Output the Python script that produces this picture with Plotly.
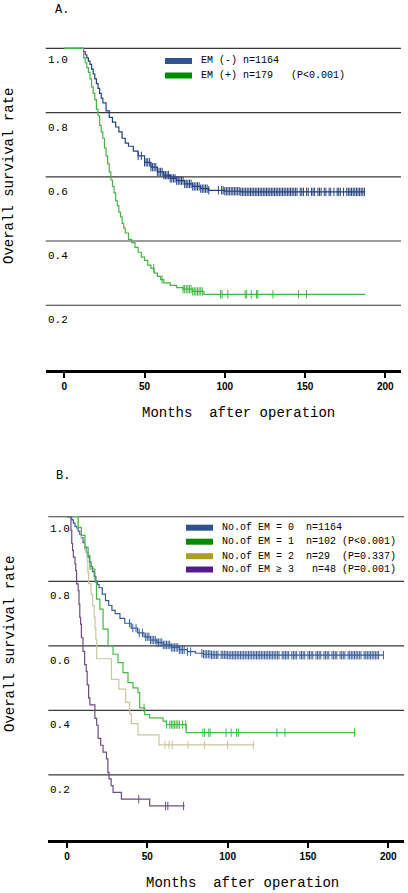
import numpy as np
import plotly.graph_objects as go

# ---------------- Panel A data ----------------
a_neg_t = [0, 12, 13, 14, 15, 16, 17, 18, 19, 20, 21, 22, 23, 24, 26, 28, 30, 32, 34, 36, 38, 40,
           43, 46, 50, 54, 58, 62, 66, 70, 75, 80, 85, 90, 100, 110]
a_neg_s = [1.0, 0.99, 0.98, 0.97, 0.96, 0.95, 0.935, 0.92, 0.905, 0.89, 0.875, 0.86, 0.845, 0.83,
           0.805, 0.785, 0.77, 0.755, 0.74, 0.72, 0.705, 0.695, 0.68, 0.665, 0.645, 0.63, 0.615,
           0.605, 0.595, 0.588, 0.578, 0.57, 0.563, 0.558, 0.555, 0.553]
a_neg_end = 187.5
a_neg_cens = [46, 48, 50, 51, 52, 53, 54, 55, 56, 57, 58, 59, 60, 61, 62, 63, 64, 65, 66, 67, 68, 69,
              70, 71, 72, 73, 74, 75, 76, 77, 78, 79, 80, 81, 82, 83, 84, 85, 86, 87, 88, 89, 90,
              96, 98, 99, 100, 101, 102, 103, 104, 105, 106, 107, 108, 109, 110, 111, 112, 113, 114,
              115, 116, 117, 118, 119, 120, 121, 122, 123, 124, 125, 126, 127, 128, 129, 130, 131,
              132, 133, 134, 135, 136, 137, 138, 139, 140, 141, 142, 143, 144, 145, 147, 148, 149,
              151, 152, 154, 155, 156, 158, 159, 160, 162, 163, 165, 166, 168, 170, 171, 172, 174,
              176, 177, 178, 179, 180, 181, 182, 183, 184, 185, 186, 187]

a_pos_t = [0, 12, 13, 14, 15, 16, 17, 18, 19, 20, 21, 22, 23, 24, 25, 26, 27, 28, 29, 30, 31, 32,
           33, 34, 35, 36, 37, 38, 40, 42, 44, 46, 48, 50, 52, 54, 56, 58, 60, 62, 66, 70, 74, 80, 87]
a_pos_s = [1.0, 0.97, 0.955, 0.94, 0.925, 0.905, 0.88, 0.86, 0.84, 0.81, 0.79, 0.76, 0.74, 0.72,
           0.69, 0.665, 0.64, 0.615, 0.59, 0.57, 0.55, 0.525, 0.51, 0.49, 0.475, 0.455, 0.44,
           0.425, 0.405, 0.395, 0.38, 0.365, 0.35, 0.34, 0.325, 0.315, 0.30, 0.29, 0.28, 0.27,
           0.262, 0.255, 0.25, 0.243, 0.234]
a_pos_end = 187.5
a_pos_cens = [55.6, 60.9, 74, 75, 76, 77, 78, 79, 80, 81, 82, 83, 84, 85, 86, 97.3, 98.3, 101.9,
              112.7, 113.6, 116.5, 119.8, 120.6, 130, 145.9, 150.9]

# ---------------- Panel B data ----------------
b0_t = [0, 3, 4, 5, 6, 7, 8, 9, 10, 11, 12, 13, 14, 15, 16, 17, 18, 19, 20, 22, 24, 26, 28, 30,
        33, 36, 40, 44, 48, 52, 56, 60, 65, 70, 75, 80, 85, 90, 100]
b0_s = [1.0, 0.99, 0.98, 0.97, 0.965, 0.955, 0.945, 0.935, 0.92, 0.905, 0.89, 0.875, 0.86, 0.845,
        0.83, 0.815, 0.80, 0.79, 0.78, 0.76, 0.74, 0.725, 0.71, 0.70, 0.685, 0.67, 0.655, 0.64,
        0.628, 0.618, 0.61, 0.603, 0.595, 0.588, 0.582, 0.577, 0.574, 0.572, 0.571]
b0_end = 197
b0_cens = [39, 41, 43, 45, 47, 49, 50, 51, 52, 53, 54, 55, 56, 57, 58, 59, 60, 61, 62, 63, 64, 65,
           66, 67, 68, 69, 70, 71, 72, 73, 75, 77, 84, 85, 86, 87, 88, 89, 90, 91, 92, 93, 94, 96,
           97, 98, 99, 100, 101, 102, 103, 104, 105, 106, 107, 108, 109, 110, 111, 112, 113, 114,
           115, 116, 117, 118, 119, 120, 121, 122, 123, 124, 125, 126, 127, 128, 129, 130, 131,
           132, 134, 135, 136, 137, 138, 140, 141, 142, 143, 145, 146, 147, 148, 150, 151, 152,
           153, 155, 156, 157, 158, 160, 161, 162, 163, 165, 166, 167, 168, 170, 171, 172, 173,
           175, 176, 177, 178, 179, 180, 181, 182, 183, 185, 186, 187, 188, 189, 190, 191, 192,
           193, 194, 197]

b1_t = [0, 7, 9, 11.2, 13.2, 14.3, 17.4, 18.4, 20.5, 22.5, 25.6, 28.7, 31.8, 34.9, 38, 41.1, 44.2,
        45.3, 48.4, 51.5, 59.8, 61.9, 74.2]
b1_s = [1.0, 0.967, 0.942, 0.906, 0.88, 0.838, 0.797, 0.745, 0.714, 0.652, 0.60, 0.574, 0.548,
        0.517, 0.486, 0.47, 0.455, 0.408, 0.387, 0.377, 0.367, 0.356, 0.331]
b1_end = 179.3
b1_cens = [48, 62, 64, 65, 66, 67, 68, 69, 70, 72, 74, 84.6, 85.6, 88.3, 89.1, 99, 102.2, 105.6,
           106.7, 130.7, 135.7, 179]

b2_t = [0, 7, 9, 11, 12.5, 13, 13.5, 15, 16, 17, 17.5, 18, 18.5, 27.7, 32.3, 36.6, 39, 40.1, 44.2,
        57.3]
b2_s = [1.0, 0.966, 0.931, 0.897, 0.862, 0.828, 0.793, 0.759, 0.724, 0.69, 0.655, 0.62, 0.56,
        0.496, 0.466, 0.425, 0.39, 0.359, 0.324, 0.293]
b2_end = 116.6
b2_cens = [61, 63.5, 65.6, 75.3, 85.6, 100, 116]

b3_t = [0, 2.5, 3, 3.5, 4, 5, 5.5, 6, 7, 7.5, 8, 8.5, 9, 10, 11, 12, 12.6, 13.5, 14.3, 17.4, 18.5,
        19.4, 21, 22.5, 24.6, 25.5, 26.2, 27.5, 28.7, 33.9, 51.5]
b3_s = [1.0, 0.958, 0.917, 0.896, 0.875, 0.854, 0.833, 0.792, 0.771, 0.729, 0.688, 0.667, 0.625,
        0.583, 0.542, 0.521, 0.479, 0.438, 0.417, 0.375, 0.354, 0.313, 0.292, 0.271, 0.25, 0.208,
        0.188, 0.167, 0.146, 0.125, 0.104]
b3_end = 73.2
b3_cens = [44.7, 61.4, 62.8, 72.6]

x_ticks = [0, 50, 100, 150, 200]
y_grid = [1.0, 0.8, 0.6, 0.4, 0.2]
y_labels = ["1.0", "0.8", "0.6", "0.4", "0.2"]

legend_a = ["EM (-) n=1164", "EM (+) n=179   (P<0.001)"]
legend_b = ["No.of EM = 0  n=1164",
            "No.of EM = 1  n=102 (P<0.001)",
            "No.of EM = 2  n=29  (P=0.337)",
            "No.of EM ≥ 3   n=48 (P=0.001)"]

# ---------------- styling ----------------
W, H = 408, 893
MONO = "Liberation Mono, DejaVu Sans Mono, monospace"

C_BLUE_A = "#23407f"
C_GREEN_A = "#45b645"
C_BLUE_B = "#3a5d98"
C_GREEN_B = "#48b848"
C_KHAKI = "#c9c6a0"
C_PURPLE = "#6e4c7e"

LEG_BLUE = "#30528f"
LEG_GREEN = "#008a00"
LEG_KHAKI = "#a8a01e"
LEG_PURPLE = "#581c8a"

fig = go.Figure()


def add_km(t, s, end, cens, color, xa, ya):
    xs = list(t) + [end]
    ys = list(s) + [s[-1]]
    fig.add_trace(go.Scatter(x=xs, y=ys, mode="lines",
                             line=dict(color=color, width=1.2, shape="hv"),
                             xaxis=xa, yaxis=ya, showlegend=False, hoverinfo="skip"))
    tt = np.array(t, dtype=float)
    ss = np.array(s, dtype=float)
    idx = np.searchsorted(tt, np.array(cens, dtype=float), side="right") - 1
    fig.add_trace(go.Scatter(x=cens, y=ss[idx], mode="markers",
                             marker=dict(symbol="line-ns", size=6,
                                         line=dict(color=color, width=1)),
                             xaxis=xa, yaxis=ya, showlegend=False, hoverinfo="skip"))


add_km(a_neg_t, a_neg_s, a_neg_end, a_neg_cens, C_BLUE_A, "x", "y")
add_km(a_pos_t, a_pos_s, a_pos_end, a_pos_cens, C_GREEN_A, "x", "y")
add_km(b0_t, b0_s, b0_end, b0_cens, C_BLUE_B, "x2", "y2")
add_km(b2_t, b2_s, b2_end, b2_cens, C_KHAKI, "x2", "y2")
add_km(b1_t, b1_s, b1_end, b1_cens, C_GREEN_B, "x2", "y2")
add_km(b3_t, b3_s, b3_end, b3_cens, C_PURPLE, "x2", "y2")


def px_x(p):
    return p / W


def px_y(p):
    return 1 - p / H


def xaxis_cfg(dom, yref):
    return dict(domain=dom, range=[-11.6, 209.8], tickvals=x_ticks,
                ticktext=[str(v) for v in x_ticks], showline=True, linewidth=3,
                linecolor="black", ticks="outside", ticklen=5, tickwidth=2,
                tickcolor="black", showgrid=False, zeroline=False, anchor=yref,
                tickfont=dict(family="Liberation Sans, Arial", size=10, color="black",
                              weight="bold"), fixedrange=True)


def yaxis_cfg(dom, xref):
    return dict(domain=dom, range=[0, 1.01], showticklabels=False, showgrid=False,
                zeroline=False, showline=False, ticks="", anchor=xref, fixedrange=True)


fig.update_layout(
    width=W, height=H, margin=dict(l=0, r=0, t=0, b=0),
    paper_bgcolor="white", plot_bgcolor="white",
    xaxis=xaxis_cfg([px_x(45.7), px_x(401)], "y"),
    yaxis=yaxis_cfg([px_y(369.5), px_y(45.1)], "x"),
    xaxis2=xaxis_cfg([px_x(48.3), px_x(404)], "y2"),
    yaxis2=yaxis_cfg([px_y(839.5), px_y(513.5)], "x2"),
)

shapes = []
annotations = []
for xr, yr, lab_x in [("x", "y", 46), ("x2", "y2", 48)]:
    for v, lab in zip(y_grid, y_labels):
        shapes.append(dict(type="line", xref=xr + " domain", yref=yr, x0=0, x1=1, y0=v, y1=v,
                           line=dict(color="#3a3a3a", width=1.2), layer="below"))
        annotations.append(dict(text=lab, xref="paper", yref=yr, x=px_x(lab_x), y=v,
                                xanchor="left", yanchor="middle", yshift=-15 if v < 1 else -12,
                                showarrow=False, font=dict(family=MONO, size=11, color="black")))

# panel letters
annotations.append(dict(text="A.", xref="paper", yref="paper", x=px_x(53), y=px_y(10),
                        xanchor="left", yanchor="middle", showarrow=False,
                        font=dict(family=MONO, size=12, color="black")))
annotations.append(dict(text="B.", xref="paper", yref="paper", x=px_x(54), y=px_y(476),
                        xanchor="left", yanchor="middle", showarrow=False,
                        font=dict(family=MONO, size=12, color="black")))

# axis titles
for cx, cy in [(238, 413), (242, 883)]:
    annotations.append(dict(text="Months  after operation".replace(" ", "&nbsp;"),
                            xref="paper", yref="paper",
                            x=px_x(cx), y=px_y(cy), xanchor="center", yanchor="middle",
                            showarrow=False, font=dict(family=MONO, size=14, color="black")))
for cx, cy in [(9, 176), (10, 644)]:
    annotations.append(dict(text="Overall survival rate", xref="paper", yref="paper",
                            x=px_x(cx), y=px_y(cy), xanchor="center", yanchor="middle",
                            textangle=-90, showarrow=False,
                            font=dict(family=MONO, size=14, color="black")))

# legends
for txt, col, cy in zip(legend_a, [LEG_BLUE, LEG_GREEN], [61, 75.5]):
    shapes.append(dict(type="rect", xref="paper", yref="paper", x0=px_x(165), x1=px_x(192),
                       y0=px_y(cy - 3), y1=px_y(cy + 3), fillcolor=col, line=dict(width=0)))
    annotations.append(dict(text=txt.replace(" ", "&nbsp;"), xref="paper", yref="paper",
                            x=px_x(199), y=px_y(cy), xanchor="left", yanchor="middle",
                            showarrow=False, font=dict(family=MONO, size=10, color="black")))
for txt, col, cy in zip(legend_b, [LEG_BLUE, LEG_GREEN, LEG_KHAKI, LEG_PURPLE],
                        [527.7, 541.7, 556.2, 569.5]):
    shapes.append(dict(type="rect", xref="paper", yref="paper", x0=px_x(186), x1=px_x(213),
                       y0=px_y(cy - 3), y1=px_y(cy + 3), fillcolor=col, line=dict(width=0)))
    annotations.append(dict(text=txt.replace(" ", "&nbsp;"), xref="paper", yref="paper",
                            x=px_x(220), y=px_y(cy), xanchor="left", yanchor="middle",
                            showarrow=False, font=dict(family=MONO, size=10, color="black")))

fig.update_layout(shapes=shapes, annotations=annotations)
fig.write_html("out.html", config={"displayModeBar": False},
               post_script="document.body.style.margin='0';document.body.style.overflow='hidden';")
